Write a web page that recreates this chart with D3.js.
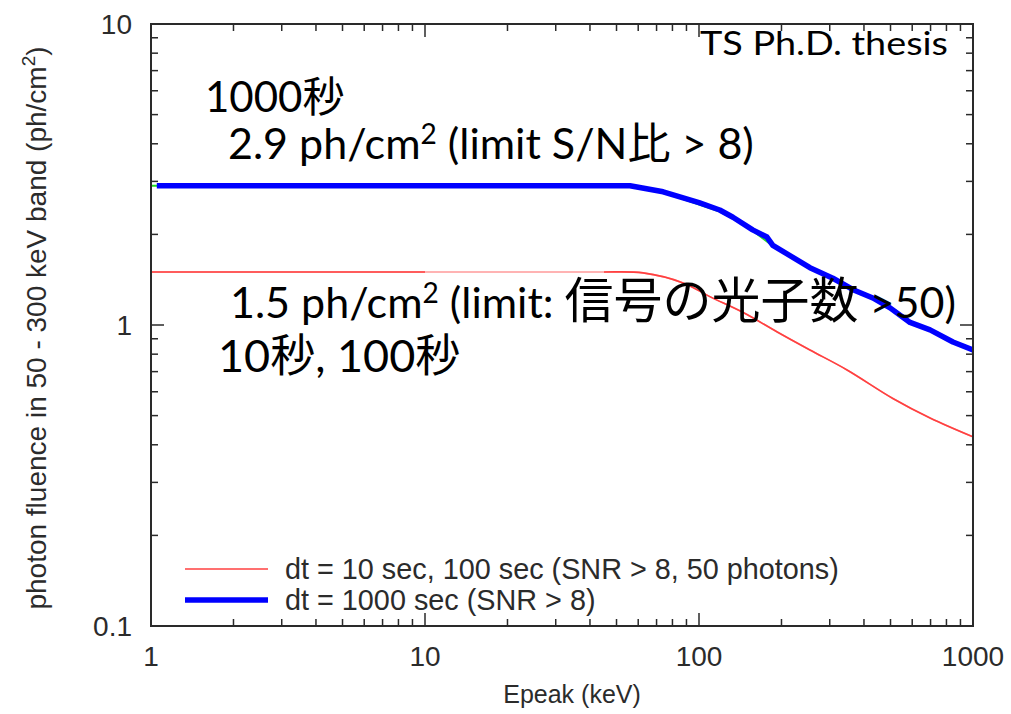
<!DOCTYPE html>
<html>
<head>
<meta charset="utf-8">
<script src="https://cdn.jsdelivr.net/npm/d3@7"></script>
<style>
  html, body { margin: 0; padding: 0; background: #fff; }
  svg { display: block; }
</style>
</head>
<body>
<svg id="chart" width="1011" height="714"></svg>
<script>
// Limiting photon fluence (50-300 keV) vs. spectral peak energy
const xTickLabels = [1, 10, 100, 1000];
const yTickLabels = [0.1, 1, 10];

// dt = 10 sec / 100 sec (SNR > 8, 50 photons)
const epeakRed   = [1, 20, 43.5, 62.5, 87.5, 110, 145, 193, 254, 347, 510, 700, 1000];
const fluenceRed = [1.5, 1.5, 1.5, 1.49, 1.38, 1.24, 1.10, 0.948, 0.826, 0.709, 0.57, 0.49, 0.425];

// dt = 100 sec companion curve (mostly hidden under the 1000 sec curve)
const epeakGreen   = [1, 56, 74, 119, 140, 160, 186, 254, 320, 380, 450, 520, 600, 700, 845, 1000];
const fluenceGreen = [2.9, 2.9, 2.76, 2.38, 2.2, 2.03, 1.83, 1.54, 1.41, 1.29, 1.21, 1.12, 1.02, 0.96, 0.876, 0.826];

// dt = 1000 sec (SNR > 8)
const epeakBlue   = [1.05, 56, 74, 100, 119, 133, 157, 177, 186, 254, 308, 365, 431, 498, 589, 697, 845, 1000];
const fluenceBlue = [2.9, 2.9, 2.77, 2.55, 2.41, 2.28, 2.07, 1.96, 1.84, 1.55, 1.43, 1.31, 1.23, 1.14, 1.02, 0.963, 0.878, 0.826];

const legendLabels = [
  "dt = 10 sec, 100 sec (SNR > 8, 50 photons)",
  "dt = 1000 sec (SNR > 8)"
];

const svg = d3.select("#chart");
const W = 1011, H = 714;
const plot = { left: 151, right: 973, top: 24, bottom: 626 };

const x = d3.scaleLog().domain([1, 1000]).range([plot.left, plot.right]);
const y = d3.scaleLog().domain([0.1, 10]).range([plot.bottom, plot.top]);

const axisColor = "#2a2a2a";
const axisFont = "'Liberation Sans', Arial, Helvetica, sans-serif";
const noteFont = "Lato, 'Noto Sans CJK JP', sans-serif";
const textColor = "#2b2b2b";

svg.append("rect").attr("width", W).attr("height", H).attr("fill", "#fff");

// clip region for curves
svg.append("clipPath").attr("id", "plotClip")
  .append("rect")
  .attr("x", plot.left).attr("y", plot.top)
  .attr("width", plot.right - plot.left).attr("height", plot.bottom - plot.top);

// red curve drawn darker outside the 10-45 keV stretch
const redDark = svg.append("clipPath").attr("id", "redDarkClip");
redDark.append("rect").attr("x", x(1)).attr("y", 0).attr("width", x(10) - x(1)).attr("height", H);
redDark.append("rect").attr("x", x(45)).attr("y", 0).attr("width", x(1000) - x(45)).attr("height", H);

const zip = (xs, ys) => xs.map((v, i) => [v, ys[i]]);
const smooth = d3.line().x(d => x(d[0])).y(d => y(d[1])).curve(d3.curveCatmullRom.alpha(0.5));
const straight = d3.line().x(d => x(d[0])).y(d => y(d[1]));

const curves = svg.append("g").attr("clip-path", "url(#plotClip)");

curves.append("path")
  .datum(zip(epeakRed, fluenceRed))
  .attr("d", smooth).attr("fill", "none")
  .attr("stroke", "#ff9a9a").attr("stroke-width", 1.6);
curves.append("path")
  .datum(zip(epeakRed, fluenceRed))
  .attr("d", smooth).attr("fill", "none")
  .attr("clip-path", "url(#redDarkClip)")
  .attr("stroke", "#ff4040").attr("stroke-width", 1.6);

curves.append("path")
  .datum(zip(epeakGreen, fluenceGreen))
  .attr("d", straight).attr("fill", "none")
  .attr("stroke", "#22dd22").attr("stroke-width", 2);

curves.append("path")
  .datum(zip(epeakBlue, fluenceBlue))
  .attr("d", straight).attr("fill", "none")
  .attr("stroke", "#0000ff").attr("stroke-width", 5.5)
  .attr("stroke-linejoin", "round");

// frame
svg.append("rect")
  .attr("x", plot.left).attr("y", plot.top)
  .attr("width", plot.right - plot.left).attr("height", plot.bottom - plot.top)
  .attr("fill", "none").attr("stroke", axisColor).attr("stroke-width", 2);

const isMajor = v => Math.abs(Math.log10(v) - Math.round(Math.log10(v))) < 1e-9;
const majorLen = 13, minorLen = 7;

// x ticks (bottom and top, pointing inward)
const xt = x.ticks().filter(v => v > 1 && v < 1000);
const tickG = svg.append("g").attr("stroke", axisColor).attr("stroke-width", 1.5);
tickG.selectAll("line.xb").data(xt).join("line")
  .attr("x1", d => x(d)).attr("x2", d => x(d))
  .attr("y1", plot.bottom).attr("y2", d => plot.bottom - (isMajor(d) ? majorLen : minorLen));
tickG.selectAll("line.xt").data(xt).join("line")
  .attr("x1", d => x(d)).attr("x2", d => x(d))
  .attr("y1", plot.top).attr("y2", d => plot.top + (isMajor(d) ? majorLen : minorLen));

// y ticks (left and right, pointing inward)
const yt = y.ticks().filter(v => v > 0.1 && v < 10);
tickG.selectAll("line.yl").data(yt).join("line")
  .attr("y1", d => y(d)).attr("y2", d => y(d))
  .attr("x1", plot.left).attr("x2", d => plot.left + (isMajor(d) ? majorLen : minorLen));
tickG.selectAll("line.yr").data(yt).join("line")
  .attr("y1", d => y(d)).attr("y2", d => y(d))
  .attr("x1", plot.right).attr("x2", d => plot.right - (isMajor(d) ? majorLen : minorLen));

// tick labels
svg.append("g").selectAll("text").data(xTickLabels).join("text")
  .attr("x", d => x(d)).attr("y", 666)
  .attr("text-anchor", "middle")
  .attr("font-family", axisFont).attr("font-size", 28).attr("fill", textColor)
  .text(d => d);

svg.append("g").selectAll("text").data(yTickLabels).join("text")
  .attr("x", 132).attr("y", d => y(d))
  .attr("dy", "0.36em")
  .attr("text-anchor", "end")
  .attr("font-family", axisFont).attr("font-size", 28).attr("fill", textColor)
  .text(d => d);

// axis titles
svg.append("text")
  .attr("x", (plot.left + plot.right) / 2 + 10).attr("y", 703)
  .attr("text-anchor", "middle")
  .attr("font-family", axisFont).attr("font-size", 25).attr("fill", textColor)
  .text("Epeak (keV)");

const yTitle = svg.append("text")
  .attr("transform", `translate(46, ${(plot.top + plot.bottom) / 2 + 3}) rotate(-90)`)
  .attr("text-anchor", "middle")
  .attr("font-family", axisFont).attr("font-size", 28).attr("fill", textColor);
yTitle.append("tspan").text("photon fluence in 50 - 300 keV band (ph/cm");
yTitle.append("tspan").attr("font-size", 19).attr("dy", -11).text("2");
yTitle.append("tspan").attr("dy", 11).text(")");

// legend
const legendColors = ["#ff4040", "#0000ff"];
const legendWidths = [1.6, 5.5];
const lg = svg.append("g");
legendLabels.forEach((label, i) => {
  const ly = 569 + i * 31;
  lg.append("line")
    .attr("x1", 185).attr("x2", 268).attr("y1", ly).attr("y2", ly)
    .attr("stroke", legendColors[i]).attr("stroke-width", legendWidths[i]);
  lg.append("text")
    .attr("x", 285).attr("y", ly).attr("dy", "0.36em")
    .attr("font-family", axisFont).attr("font-size", 28.8).attr("fill", textColor)
    .text(label);
});

// annotations
const notes = svg.append("g").attr("font-family", noteFont).attr("fill", "#000");

notes.append("text").attr("x", 700).attr("y", 55).attr("font-size", 33)
  .attr("textLength", 248).attr("lengthAdjust", "spacingAndGlyphs")
  .text("TS Ph.D. thesis");

notes.append("text").attr("x", 205).attr("y", 112).attr("font-size", 42)
  .text("1000秒");

const n2 = notes.append("text").attr("x", 228).attr("y", 159).attr("font-size", 43);
n2.append("tspan").text("2.9 ph/cm");
n2.append("tspan").attr("font-size", 28).attr("dy", -15).text("2");
n2.append("tspan").attr("dy", 15).text(" (limit S/N比 > 8)");

const n3 = notes.append("text").attr("x", 230).attr("y", 318).attr("font-size", 43);
n3.append("tspan").text("1.5 ph/cm");
n3.append("tspan").attr("font-size", 28).attr("dy", -15).text("2");
n3.append("tspan").attr("dy", 15).text(" (limit: ");
n3.append("tspan").attr("font-size", 49).text("信号の光子数");
n3.append("tspan").text(" >50)");

notes.append("text").attr("x", 218).attr("y", 372).attr("font-size", 45)
  .text("10秒, 100秒");
</script>
</body>
</html>
